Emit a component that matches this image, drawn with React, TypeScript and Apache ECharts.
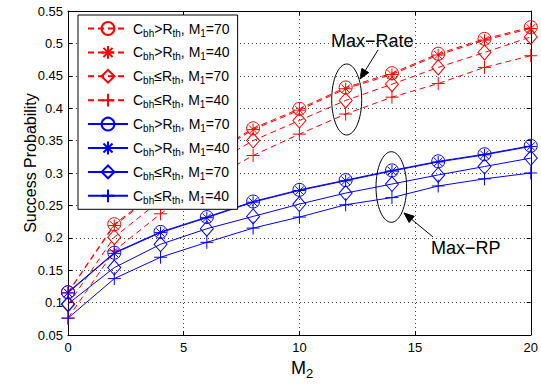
import React, { useEffect, useRef } from "react";
import * as echarts from "echarts";

const m2 = [0, 2, 4, 6, 8, 10, 12, 14, 16, 18, 20];
const rateGt70 = [0.116, 0.221, 0.275, 0.325, 0.369, 0.399, 0.432, 0.454, 0.484, 0.507, 0.525];
const rateGt40 = [0.115, 0.219, 0.273, 0.323, 0.367, 0.397, 0.430, 0.452, 0.482, 0.505, 0.523];
const rateLe70 = [0.097, 0.201, 0.258, 0.308, 0.350, 0.381, 0.412, 0.437, 0.463, 0.486, 0.510];
const rateLe40 = [0.076, 0.180, 0.237, 0.287, 0.327, 0.360, 0.391, 0.417, 0.438, 0.463, 0.481];
const rpGt70 = [0.116, 0.177, 0.209, 0.232, 0.256, 0.274, 0.289, 0.304, 0.318, 0.329, 0.342];
const rpGt40 = [0.115, 0.176, 0.208, 0.231, 0.255, 0.273, 0.288, 0.303, 0.317, 0.328, 0.341];
const rpLe70 = [0.098, 0.154, 0.190, 0.214, 0.233, 0.252, 0.269, 0.283, 0.297, 0.310, 0.323];
const rpLe40 = [0.076, 0.137, 0.170, 0.193, 0.215, 0.232, 0.251, 0.262, 0.280, 0.291, 0.300];

const xTicks = { min: 0, max: 20, interval: 5 };
const yTicks = { min: 0.05, max: 0.55, interval: 0.05 };

const FONT = '"Liberation Sans", Arial, Helvetica, sans-serif';

const ASTERISK = "path://M5,0L5,10M0,5L10,5M1.46,1.46L8.54,8.54M1.46,8.54L8.54,1.46";
const PLUS = "path://M5,0L5,10M0,5L10,5";

type Def = { key: string; data: number[]; color: string; dashed: boolean; symbol: string; size: number | number[]; cmp: string; m1: string };

const defs: Def[] = [
  { key: "rate_gt_70", data: rateGt70, color: "#ff0000", dashed: true, symbol: "circle", size: 13, cmp: ">", m1: "70" },
  { key: "rate_gt_40", data: rateGt40, color: "#ff0000", dashed: true, symbol: ASTERISK, size: 12, cmp: ">", m1: "40" },
  { key: "rate_le_70", data: rateLe70, color: "#ff0000", dashed: true, symbol: "diamond", size: [13, 15], cmp: "≤", m1: "70" },
  { key: "rate_le_40", data: rateLe40, color: "#ff0000", dashed: true, symbol: PLUS, size: 13, cmp: "≤", m1: "40" },
  { key: "rp_gt_70", data: rpGt70, color: "#0000ff", dashed: false, symbol: "circle", size: 13, cmp: ">", m1: "70" },
  { key: "rp_gt_40", data: rpGt40, color: "#0000ff", dashed: false, symbol: ASTERISK, size: 12, cmp: ">", m1: "40" },
  { key: "rp_le_70", data: rpLe70, color: "#0000ff", dashed: false, symbol: "diamond", size: [13, 15], cmp: "≤", m1: "70" },
  { key: "rp_le_40", data: rpLe40, color: "#0000ff", dashed: false, symbol: PLUS, size: 13, cmp: "≤", m1: "40" },
];

function arrow(x1: number, y1: number, x2: number, y2: number) {
  const dx = x2 - x1;
  const dy = y2 - y1;
  const len = Math.sqrt(dx * dx + dy * dy);
  const ux = dx / len;
  const uy = dy / len;
  const hl = 10;
  const hw = 4;
  const bx = x2 - ux * hl;
  const by = y2 - uy * hl;
  return [
    { type: "line", shape: { x1, y1, x2: bx, y2: by }, style: { stroke: "#000", lineWidth: 1 } },
    {
      type: "polygon",
      shape: { points: [[x2, y2], [bx - uy * hw, by + ux * hw], [bx + uy * hw, by - ux * hw]] },
      style: { fill: "#000", stroke: "#000" },
    },
  ];
}

export default function App() {
  const ref = useRef<HTMLDivElement>(null);
  useEffect(() => {
    if (!ref.current) return;
    const chart = echarts.init(ref.current, null, { renderer: "svg" });
    const byKey: Record<string, Def> = {};
    defs.forEach((d) => (byKey[d.key] = d));
    const subRich = {
      n: { fontFamily: FONT, fontSize: 14, color: "#000", lineHeight: 16 },
      s: { fontFamily: FONT, fontSize: 10, color: "#000", lineHeight: 16, padding: [9, 0, 0, 0] },
    };
    const option: any = {
      animation: false,
      backgroundColor: "#fff",
      grid: { left: 68, right: 10, top: 11, bottom: 49, containLabel: false },
      xAxis: [
        {
          type: "value", ...xTicks, position: "bottom",
          axisLine: { show: true, onZero: false, lineStyle: { color: "#000", width: 1 } },
          axisTick: { show: true, inside: true, length: 4, lineStyle: { color: "#000" } },
          axisLabel: { color: "#000", fontFamily: FONT, fontSize: 13, margin: 6 },
          splitLine: { show: true, lineStyle: { type: [1, 3], color: "#444", width: 1 } },
        },
        {
          type: "value", ...xTicks, position: "top",
          axisLine: { show: true, onZero: false, lineStyle: { color: "#000", width: 1 } },
          axisTick: { show: true, inside: true, length: 4, lineStyle: { color: "#000" } },
          axisLabel: { show: false },
          splitLine: { show: false },
        },
      ],
      yAxis: [
        {
          type: "value", ...yTicks, position: "left",
          axisLine: { show: true, onZero: false, lineStyle: { color: "#000", width: 1 } },
          axisTick: { show: true, inside: true, length: 4, lineStyle: { color: "#000" } },
          axisLabel: { color: "#000", fontFamily: FONT, fontSize: 13, margin: 5 },
          splitLine: { show: true, lineStyle: { type: [1, 3], color: "#444", width: 1 } },
        },
        {
          type: "value", ...yTicks, position: "right",
          axisLine: { show: true, onZero: false, lineStyle: { color: "#000", width: 1 } },
          axisTick: { show: true, inside: true, length: 4, lineStyle: { color: "#000" } },
          axisLabel: { show: false },
          splitLine: { show: false },
        },
      ],
      legend: {
        orient: "vertical",
        left: 78,
        top: 15,
        padding: [4, 8, 4, 9],
        itemGap: 4.9,
        itemWidth: 40,
        itemHeight: 16,
        borderColor: "#000",
        borderWidth: 1,
        backgroundColor: "#fff",
        borderRadius: 0,
        data: defs.map((d) => d.key),
        formatter: (name: string) => {
          const d = byKey[name];
          return `{n|C}{s|bh}{n|${d.cmp}R}{s|th}{n|, M}{s|1}{n|=${d.m1}}`;
        },
        textStyle: { fontFamily: FONT, fontSize: 14, color: "#000", rich: subRich },
      },
      series: defs.map((d) => ({
        name: d.key,
        type: "line",
        xAxisIndex: 0,
        yAxisIndex: 0,
        data: m2.map((x, i) => [x, d.data[i]]),
        symbol: d.symbol,
        symbolSize: d.size,
        showSymbol: true,
        lineStyle: { color: d.color, width: 1, type: d.dashed ? [6, 4] : "solid" },
        itemStyle: { color: "transparent", borderColor: d.color, borderWidth: 1 },
        emphasis: { disabled: true },
        z: d.dashed ? 2 : 3,
      })),
      graphic: [
        {
          type: "text", x: 30, y: 163, rotation: Math.PI / 2,
          style: { text: "Success Probability", font: `16px ${FONT}`, fill: "#000", align: "center", verticalAlign: "middle" },
        },
        {
          type: "text", x: 302, y: 368,
          style: {
            text: "{m|M}{t|2}", align: "center", verticalAlign: "middle",
            rich: {
              m: { fontFamily: FONT, fontSize: 18, fill: "#000", color: "#000", lineHeight: 20 },
              t: { fontFamily: FONT, fontSize: 13, fill: "#000", color: "#000", lineHeight: 20, padding: [11, 0, 0, 0] },
            },
          },
        },
        {
          type: "text", x: 331, y: 41,
          style: { text: "Max−Rate", font: `18px ${FONT}`, fill: "#000", align: "left", verticalAlign: "middle" },
        },
        {
          type: "ellipse", shape: { cx: 346.7, cy: 99.5, rx: 15, ry: 35.5 },
          style: { fill: "none", stroke: "#000", lineWidth: 1 },
        },
        ...arrow(378, 50, 360, 79),
        {
          type: "text", x: 431, y: 248,
          style: { text: "Max−RP", font: `18px ${FONT}`, fill: "#000", align: "left", verticalAlign: "middle" },
        },
        {
          type: "ellipse", shape: { cx: 391.3, cy: 187, rx: 15.3, ry: 35.3 },
          style: { fill: "none", stroke: "#000", lineWidth: 1 },
        },
        ...arrow(433, 237, 404, 213),
      ],
    };
    chart.setOption(option);
    return () => chart.dispose();
  }, []);
  return <div ref={ref} style={{ position: "fixed", left: 0, top: 0, width: 541, height: 384 }} />;
}
